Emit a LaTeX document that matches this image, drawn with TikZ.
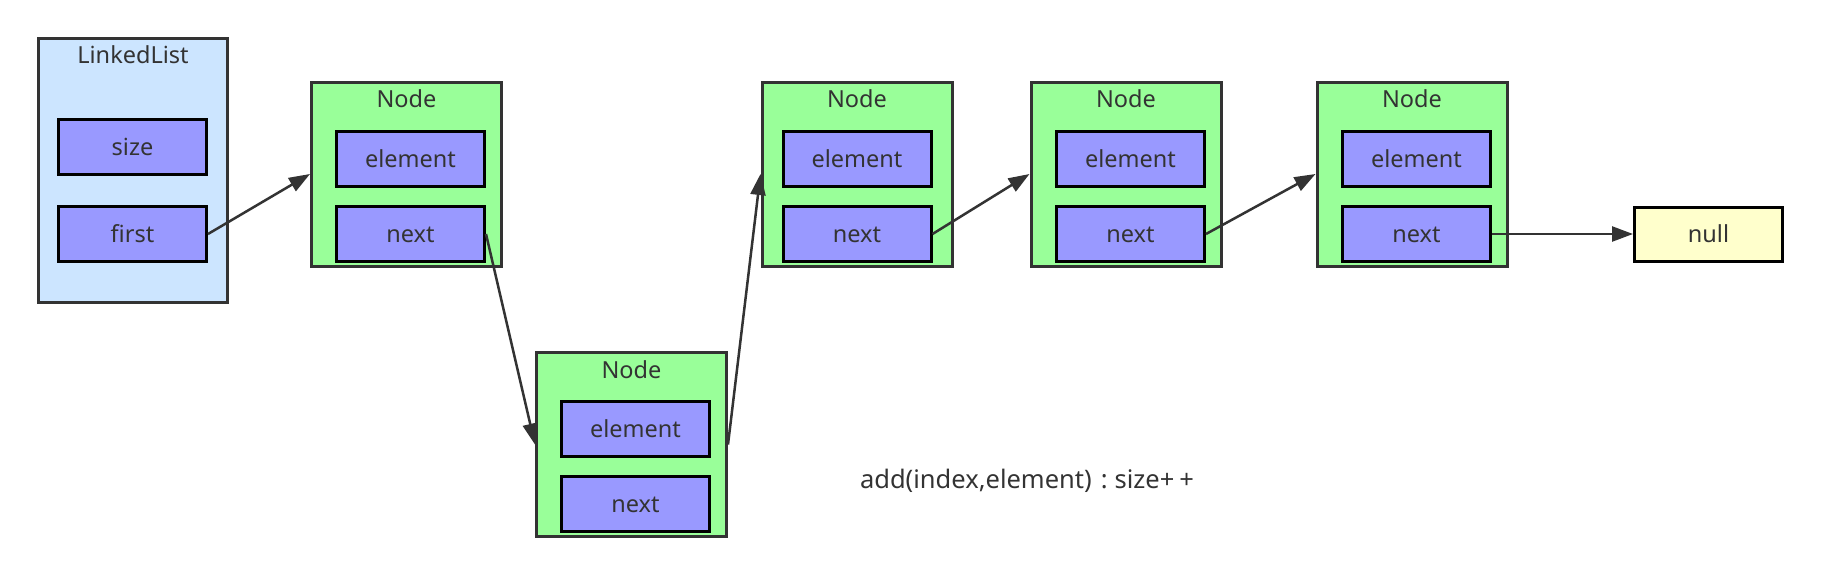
\documentclass[tikz,border=0pt]{standalone}
\usepackage{fontspec}
\setmainfont{Noto Sans}
\usetikzlibrary{arrows.meta}
\definecolor{llblue}{HTML}{CCE5FF}
\definecolor{nodegreen}{HTML}{99FF99}
\definecolor{fieldpurple}{HTML}{9999FF}
\definecolor{nullyellow}{HTML}{FFFFCC}
\definecolor{darkline}{HTML}{333333}
\definecolor{txt}{HTML}{333333}
\tikzset{
  every node/.style={font=\fontsize{23.5}{28}\selectfont, text=txt, inner sep=0pt, text height=1.72em, text depth=0pt},
  container/.style={draw=darkline, line width=3pt, minimum width=190pt, minimum height=184pt},
  llbox/.style={draw=darkline, fill=llblue, line width=3pt, minimum width=189pt, minimum height=264pt},
  nodebox/.style={container, fill=nodegreen},
  field/.style={draw=black, fill=fieldpurple, line width=3pt, minimum width=148pt, minimum height=55pt},
  nullbox/.style={draw=black, fill=nullyellow, line width=3pt, minimum width=148pt, minimum height=54pt},
  title/.style={},
  caption/.style={font=\fontsize{25.5}{30}\selectfont},
  link/.style={draw=darkline, line width=2.5pt, -{Triangle[length=21pt,width=15pt]}},
}
\begin{document}
\begin{tikzpicture}[x=1pt,y=-1pt]
\useasboundingbox (0,0) rectangle (1821,573);
% LinkedList
\node[llbox] (ll) at (133,170.5) {};
\node[title] (llt) at (133,55) {LinkedList};
\node[field] (size) at (132.5,146.5) {size};
\node[field] (first) at (132.5,234) {first};
% Node 1
\node[nodebox] (n1) at (406.5,174) {};
\node[title] (n1t) at (406.5,99) {Node};
\node[field] (n1e) at (410.5,159) {element};
\node[field] (n1n) at (410.5,234) {next};
% Node 2
\node[nodebox] (n2) at (631.5,444.5) {};
\node[title] (n2t) at (631.5,370) {Node};
\node[field] (n2e) at (635.5,429) {element};
\node[field] (n2n) at (635.5,504) {next};
% Node 3
\node[nodebox] (n3) at (857,174) {};
\node[title] (n3t) at (857,99) {Node};
\node[field] (n3e) at (857,159) {element};
\node[field] (n3n) at (857,234) {next};
% Node 4
\node[nodebox] (n4) at (1126,174) {};
\node[title] (n4t) at (1126,99) {Node};
\node[field] (n4e) at (1130.5,159) {element};
\node[field] (n4n) at (1130.5,234) {next};
% Node 5
\node[nodebox] (n5) at (1412,174) {};
\node[title] (n5t) at (1412,99) {Node};
\node[field] (n5e) at (1416.5,159) {element};
\node[field] (n5n) at (1416.5,234) {next};
% null
\node[nullbox] (null) at (1708.5,234) {null};
% caption
\node[caption] (cap) at (1027,480) {add(index,element)\hspace{9pt}:\hspace{7pt}size+\hspace{5pt}+};
% links
\draw[link] (first.east) -- (n1.west);
\draw[link] (n1n.east) -- (n2.west);
\draw[link] (n2.east) -- (n3.west);
\draw[link] (n3n.east) -- (n4.west);
\draw[link] (n4n.east) -- (n5.west);
\draw[link] (n5n.east) -- (null.west);
\end{tikzpicture}
\end{document}
